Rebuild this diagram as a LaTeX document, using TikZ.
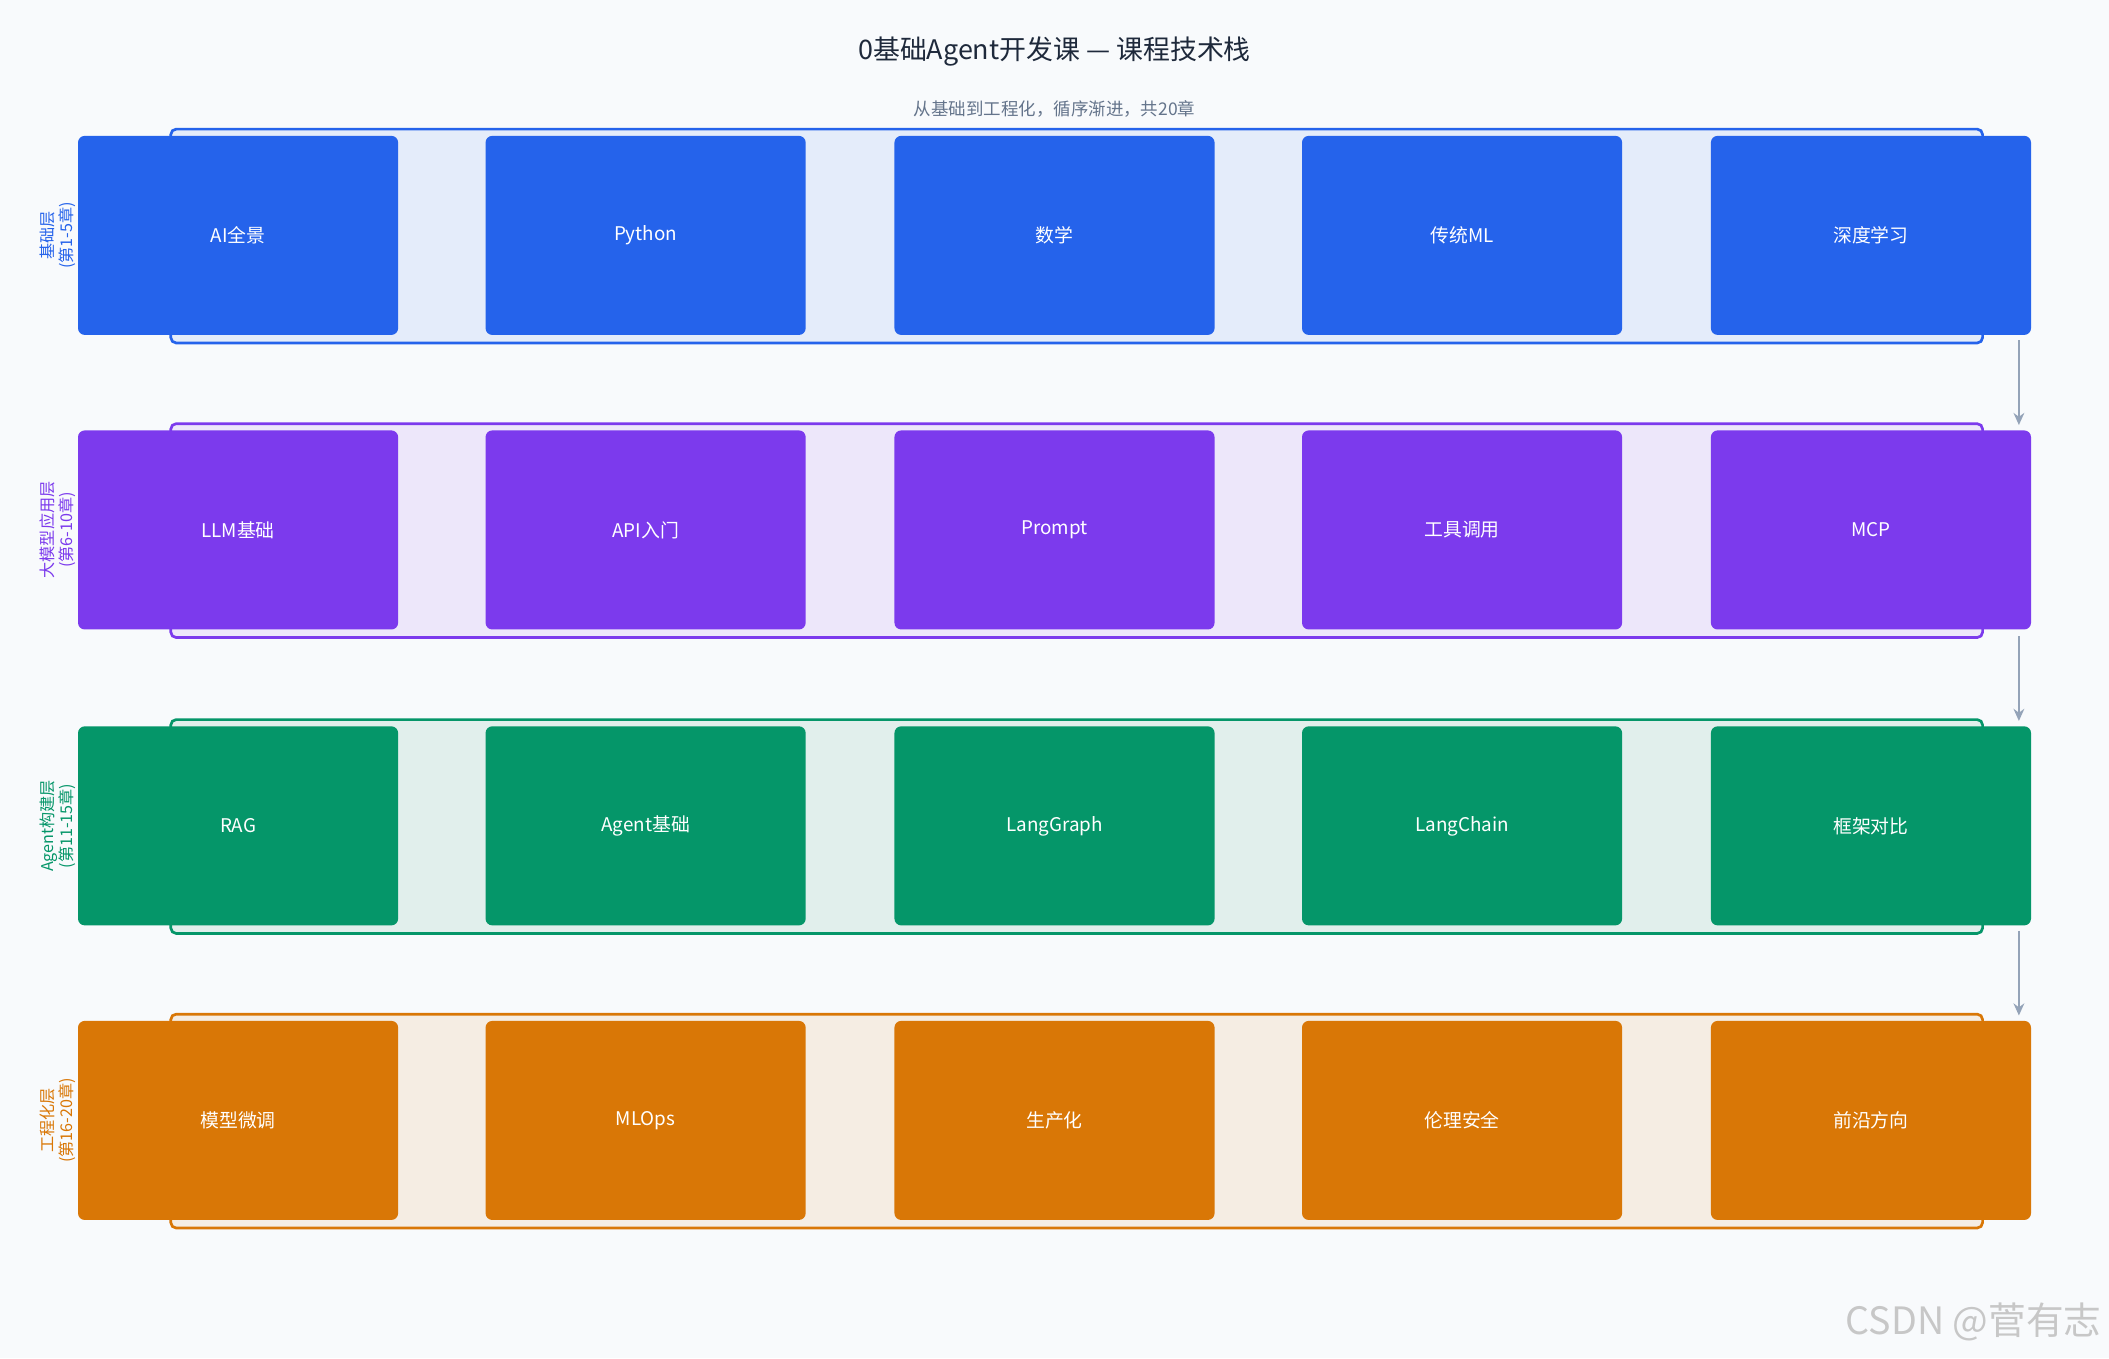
\documentclass[tikz,border=0pt]{standalone}
\usepackage{fontspec}
\setmainfont{Noto Sans CJK SC}
\usetikzlibrary{arrows.meta}
\definecolor{bg}{HTML}{F8FAFC}
\definecolor{cA}{HTML}{2563EB}\definecolor{fA}{HTML}{E4ECFA}
\definecolor{cB}{HTML}{7C3AED}\definecolor{fB}{HTML}{EDE7FA}
\definecolor{cC}{HTML}{059669}\definecolor{fC}{HTML}{E1EFEC}
\definecolor{cD}{HTML}{D97706}\definecolor{fD}{HTML}{F5EDE3}
\definecolor{arr}{HTML}{94A3B8}
\definecolor{ttl}{HTML}{1E293B}
\definecolor{sub}{HTML}{64748B}
\tikzset{
 item/.style={fill=#1,draw=none,rounded corners=5pt,minimum width=238pt,minimum height=148pt,inner sep=0pt,text=white,font=\fontsize{14}{16}\selectfont},
 band/.style={rounded corners=4pt,line width=2pt},
 side/.style={rotate=90,align=center,font=\fontsize{12}{14}\selectfont,text=#1},
 flow/.style={draw=arr,line width=2pt,-{Stealth[length=9pt,width=8pt]}}
}
\begin{document}
\begin{tikzpicture}[x=1pt,y=-1pt]
\fill[bg] (0,0) rectangle (1568,1010);
\useasboundingbox (0,0) rectangle (1568,1010);
\node[text=ttl,font=\fontsize{20}{24}\selectfont] (title) at (784,38) {0基础Agent开发课 — 课程技术栈};
\node[text=sub,font=\fontsize{13}{15}\selectfont] (subt) at (784,81) {从基础到工程化，循序渐进，共20章};
\def\xs{{177,480,784,1087,1391}}
\foreach \r/\yt/\c/\f/\lab/\labb/\items in {
 1/96/cA/fA/基础层/(第1-5章)/{AI全景,Python,数学,传统ML,深度学习},
 2/315/cB/fB/大模型应用层/(第6-10章)/{LLM基础,API入门,Prompt,工具调用,MCP},
 3/535/cC/fC/Agent构建层/(第11-15章)/{RAG,Agent基础,LangGraph,LangChain,框架对比},
 4/754/cD/fD/工程化层/(第16-20章)/{模型微调,MLOps,生产化,伦理安全,前沿方向}}{
  \draw[band,draw=\c,fill=\f] (127,\yt) rectangle (1474,\yt+159);
  \node[side=\c] (lab\r) at (43,\yt+79) {\lab\\\labb};
  \foreach \t [count=\i] in \items {
    \pgfmathsetmacro\xx{\xs[\i-1]}
    \node[item=\c] (b\r\i) at (\xx,\yt+79) {\t};
  }
}
\coordinate (a1) at (1501,253);\coordinate (e1) at (1501,316);
\coordinate (a2) at (1501,473);\coordinate (e2) at (1501,536);
\coordinate (a3) at (1501,692);\coordinate (e3) at (1501,755);
\draw[flow] (a1) -- (e1);
\draw[flow] (a2) -- (e2);
\draw[flow] (a3) -- (e3);
\node[text=black!22,font=\fontsize{28}{30}\selectfont,anchor=east] (wm) at (1566,983) {CSDN @菅有志};
\end{tikzpicture}
\end{document}
